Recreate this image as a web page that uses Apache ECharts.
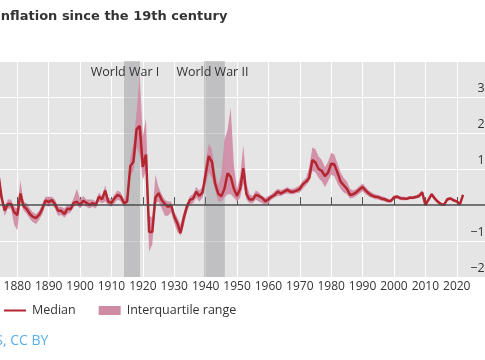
<!DOCTYPE html>
<html>
<head>
<meta charset="utf-8">
<script src="https://cdn.jsdelivr.net/npm/echarts@6/dist/echarts.min.js"></script>
<style>
html,body{margin:0;padding:0;background:#fff;overflow:hidden;width:485px;height:360px;}
#chart{position:absolute;left:-20px;top:0;width:540px;height:360px;}
</style>
</head>
<body>
<div id="chart"></div>
<script>
// ---- data (annual, % change) ----
const firstYear = 1874;
const median = [
 8.5, 2.0, -1.5, 0.3, 0.3, -2.0, -2.8, 3.2, -0.3, -1.1,
 -2.5, -3.3, -3.6, -2.7, -1.0, 1.3, 0.8, 1.4, 0.3, -1.6,
 -1.6, -2.5, -1.0, -1.2, 0.6, 0.9, 0.0, 1.2, 0.6, 0.0,
 0.5, 0.0, 2.3, 1.6, 4.0, 0.9, 0.6, 1.9, 2.8, 2.3,
 0.5, 1.0, 10.8, 12.0, 21.0, 22.0, 10.6, 14.0, -7.5, -7.5,
 2.0, 3.3, 1.4, 0.3, -0.5, 0.0, -3.2, -5.1, -7.8, -3.7,
 -0.5, 1.4, 1.8, 3.7, 2.5, 3.5, 8.5, 13.6, 12.0, 6.0,
 3.2, 2.4, 4.5, 8.8, 7.8, 4.5, 2.5, 4.5, 10.2, 3.0,
 1.5, 1.5, 2.8, 2.5, 2.0, 1.0, 1.6, 2.3, 2.8, 3.7,
 3.2, 3.7, 4.2, 3.7, 3.7, 4.0, 4.5, 5.8, 6.5, 7.5,
 12.5, 11.8, 10.0, 9.5, 8.0, 9.0, 11.5, 11.3, 9.0, 6.5,
 5.5, 4.5, 2.8, 3.0, 3.5, 4.3, 5.0, 4.0, 3.2, 2.6,
 2.3, 2.2, 1.8, 1.6, 1.2, 1.1, 2.1, 2.3, 1.9, 1.8,
 1.7, 2.0, 2.0, 2.2, 2.5, 3.5, 0.0, 1.5, 3.0, 1.8,
 0.9, 0.2, 0.1, 1.6, 1.8, 1.3, 1.0, 0.2, 2.8
];
const lowerQ = [
 6.5, 0.5, -3.0, -1.0, -1.0, -5.5, -7.0, 1.0, -1.5, -2.5,
 -3.8, -4.8, -5.3, -4.0, -2.5, 0.0, -0.5, 0.0, -1.0, -3.0,
 -2.8, -3.5, -2.5, -2.0, -0.5, 0.0, -1.0, 0.0, -0.5, -1.0,
 -0.5, -1.0, 1.0, 0.5, 1.0, 0.0, -0.5, 0.5, 1.5, 1.0,
 -0.5, 0.0, 8.0, 9.5, 16.0, 14.0, 7.0, 9.5, -13.0, -11.0,
 0.5, 1.0, -1.0, -3.0, -3.0, -2.0, -5.0, -7.5, -8.5, -6.0,
 -2.0, 0.0, 0.5, 2.0, 1.0, 2.0, 5.5, 9.0, 7.5, 4.0,
 1.0, 1.0, 2.0, 3.0, 3.0, 2.0, 1.0, 2.0, 6.0, 1.5,
 0.5, 0.5, 1.5, 1.0, 0.5, 0.0, 0.5, 1.5, 2.0, 2.5,
 2.5, 3.0, 3.2, 3.0, 3.0, 3.3, 3.5, 4.5, 5.5, 6.5,
 9.5, 9.0, 7.5, 6.5, 5.0, 6.5, 8.5, 8.0, 6.0, 4.5,
 3.5, 3.0, 1.8, 2.0, 2.5, 3.2, 3.8, 3.0, 2.3, 2.0,
 1.6, 1.5, 1.2, 1.0, 0.7, 0.6, 1.6, 1.8, 1.4, 1.3,
 1.3, 1.6, 1.6, 1.8, 2.0, 2.8, -0.3, 1.0, 2.3, 1.3,
 0.4, -0.2, -0.3, 1.1, 1.4, 0.9, 0.5, -0.2, 2.2
];
const upperQ = [
 10.0, 3.5, -0.5, 1.5, 1.5, -0.5, -1.0, 6.8, 1.0, 0.5,
 -1.0, -2.0, -2.5, -1.5, 0.5, 2.3, 2.3, 2.3, 1.5, -0.5,
 -0.5, -1.0, 0.0, 0.0, 2.0, 4.5, 1.5, 2.5, 1.5, 1.5,
 1.5, 1.0, 3.5, 2.5, 5.5, 2.0, 1.5, 3.0, 4.0, 3.5,
 1.5, 3.0, 13.0, 17.0, 26.0, 36.0, 19.0, 24.0, -3.0, -3.5,
 8.5, 5.0, 3.0, 1.5, 1.0, 1.0, -2.0, -3.5, -5.5, -2.0,
 0.5, 2.5, 3.0, 5.0, 4.0, 5.0, 12.0, 17.0, 15.5, 9.0,
 5.5, 8.5, 18.0, 21.0, 27.0, 11.0, 4.5, 8.0, 16.7, 6.0,
 3.0, 2.5, 4.0, 3.5, 2.5, 2.0, 2.5, 3.0, 3.8, 4.5,
 4.2, 4.5, 5.0, 4.5, 4.5, 5.0, 5.5, 6.8, 7.5, 10.5,
 16.0, 15.5, 13.5, 12.5, 10.5, 12.0, 14.5, 14.0, 11.5, 9.0,
 7.5, 6.5, 4.5, 4.0, 4.5, 5.3, 6.0, 5.0, 4.0, 3.5,
 3.0, 2.8, 2.5, 2.2, 1.8, 1.6, 2.7, 2.8, 2.4, 2.3,
 2.2, 2.5, 2.5, 2.7, 3.2, 4.0, 0.6, 2.0, 3.4, 2.4,
 1.4, 0.6, 0.5, 2.0, 2.2, 1.8, 1.4, 0.6, 3.2
];
const wars = [
  {name: 'World War I', from: 1914, to: 1919.1},
  {name: 'World War II', from: 1939.5, to: 1946.1}
];
const xTicks = [1880, 1890, 1900, 1910, 1920, 1930, 1940, 1950, 1960, 1970, 1980, 1990, 2000, 2010, 2020];

const yearOf = i => firstYear + i;
const medData = median.map((v, i) => [yearOf(i), v]);
const bandData = median.map((v, i) => [yearOf(i), lowerQ[i], upperQ[i]]);

const RED = '#b3262f';
const PINK = '#d08ba4';
const FONT = 'Open Sans';
const labelOffsets = [[-7, 0], [-2, 0]];

const chart = echarts.init(document.getElementById('chart'), null, {renderer: 'canvas'});
chart.setOption({
  animation: false,
  textStyle: {fontFamily: FONT},
  title: [
    {text: 'Inflation since the 19th century', left: 16, top: 10, padding: 0,
     textStyle: {fontFamily: 'DejaVu Sans', fontWeight: 'bold', fontSize: 13, color: '#333'}},
    {text: 'S, CC BY', left: 15.3, top: 334, padding: 0,
     textStyle: {fontFamily: FONT, fontWeight: 'normal', fontSize: 14, color: '#5aaeea'}}
  ],
  legend: {
    left: 23, top: 304, padding: 0,
    itemWidth: 22, itemHeight: 9, itemGap: 23,
    textStyle: {fontFamily: FONT, fontSize: 12.5, color: '#333', padding: [0, 0, 0, 1]},
    data: [
      {name: 'Median', itemStyle: {opacity: 0}},
      {name: 'Interquartile range', icon: 'rect', itemStyle: {color: PINK}}
    ]
  },
  grid: {left: 5.9, top: 61, width: 514.8, height: 216, show: true, backgroundColor: '#e5e5e5', borderWidth: 0},
  xAxis: {
    type: 'value', min: 1870, max: 2034, interval: 10,
    axisLine: {show: false},
    axisTick: {show: true, inside: true, length: 8, lineStyle: {color: '#555', width: 1}},
    axisLabel: {margin: 4, color: '#333', fontSize: 12, fontFamily: FONT,
      formatter: v => xTicks.indexOf(v) >= 0 ? String(v) : ''},
    splitLine: {show: true, lineStyle: {color: '#fff', width: 1}}
  },
  yAxis: {
    type: 'value', position: 'right', min: -20, max: 40, interval: 10,
    axisLine: {show: false}, axisTick: {show: false},
    splitLine: {show: true, lineStyle: {color: '#fff', width: 1}},
    axisLabel: {inside: true, margin: 9, color: '#333', fontSize: 12.5, fontFamily: FONT,
      verticalAlign: 'bottom', padding: [0, 0, 2, 0], showMaxLabel: false,
      formatter: v => v === 40 ? '' : (v < 0 ? '\u2212' + (-v) : String(v))}
  },
  series: [
    {
      name: 'wars', type: 'line', data: [], symbol: 'none', silent: true, z: 1,
      markArea: {
        silent: true,
        itemStyle: {color: 'rgba(140,140,148,0.42)'},
        label: {show: true, position: 'insideTop', distance: 5, color: '#333', fontSize: 12.5, fontFamily: FONT},
        data: wars.map((w, i) => [
          {xAxis: w.from, name: w.name, label: {offset: labelOffsets[i]}},
          {xAxis: w.to}
        ])
      }
    },
    {
      name: 'Interquartile range', type: 'custom', data: bandData, clip: true, z: 2,
      color: PINK, itemStyle: {color: PINK},
      encode: {x: 0, y: [1, 2]},
      renderItem: (params, api) => {
        if (params.dataIndex !== 0) return null;
        const top = upperQ.map((v, i) => api.coord([yearOf(i), v]));
        const bot = lowerQ.map((v, i) => api.coord([yearOf(i), v])).reverse();
        return {
          type: 'polygon',
          shape: {points: top.concat(bot)},
          style: {fill: PINK, opacity: 0.92}
        };
      },
      markLine: {
        silent: true, symbol: 'none', label: {show: false},
        lineStyle: {color: '#4a4a4a', width: 1.5, type: 'solid'},
        data: [{yAxis: 0}]
      }
    },
    {
      name: 'Median', type: 'line', data: medData, symbol: 'none', color: RED,
      lineStyle: {color: RED, width: 2.5}, z: 3
    }
  ]
});
</script>
</body>
</html>
